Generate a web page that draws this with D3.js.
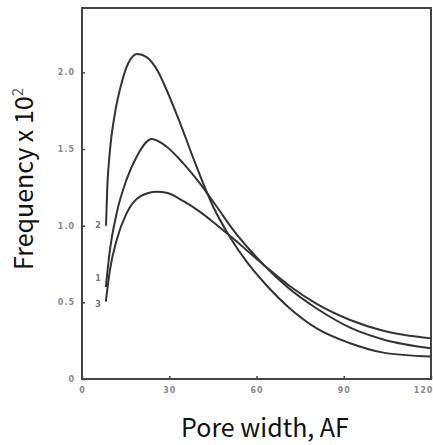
<!DOCTYPE html>
<html>
<head>
<meta charset="utf-8">
<script src="https://cdn.jsdelivr.net/npm/d3@7"></script>
<style>
  body { margin: 0; background: #fff; }
  svg { display: block; }
  .tick text { font-family: "DejaVu Sans", sans-serif; font-size: 8px; font-weight: bold; fill: #888; letter-spacing: 1px; }
  .tick line { stroke: #444; stroke-width: 1.5; }
  .title { font-family: "Noto Sans CJK KR", "Noto Sans", sans-serif; font-size: 25px; fill: #111; }
  .curveLabel { font-family: "DejaVu Sans", sans-serif; font-size: 8px; font-weight: bold; fill: #777; }
</style>
</head>
<body>
<div id="chart"></div>
<script>
// pore width (AF) and frequency x 10^2
var curve2X = [8.25, 8.7, 9.6, 11.3, 13.6, 15.9, 19.0, 22.2, 25.7, 29.1, 33.7, 39.4, 45.2, 50.9, 56.6, 63.5, 71.5, 80.7, 92.2, 103.6, 120];
var curve2Y = [1.00, 1.25, 1.49, 1.73, 1.93, 2.06, 2.12, 2.10, 2.02, 1.885, 1.67, 1.385, 1.12, 0.925, 0.765, 0.61, 0.46, 0.33, 0.233, 0.172, 0.146];

var curve1X = [8.2, 9.6, 11.9, 15.3, 18.8, 24.0, 29.1, 34.9, 40.6, 46.3, 52.1, 57.8, 63.5, 71.5, 80.7, 92.2, 103.6, 120];
var curve1Y = [0.60, 0.84, 1.08, 1.30, 1.45, 1.565, 1.515, 1.405, 1.275, 1.125, 0.97, 0.84, 0.725, 0.585, 0.46, 0.335, 0.258, 0.20];

var curve3X = [8.2, 9.6, 11.9, 15.3, 19.9, 25.7, 29.1, 34.9, 40.6, 46.3, 52.1, 57.8, 63.5, 71.5, 80.7, 92.2, 103.6, 120];
var curve3Y = [0.505, 0.71, 0.905, 1.08, 1.19, 1.222, 1.215, 1.16, 1.09, 1.005, 0.915, 0.82, 0.728, 0.605, 0.49, 0.385, 0.315, 0.265];

var curveNames = ['2', '1', '3'];
var xTicks = [0, 30, 60, 90, 120];
var yTicks = [0, 0.5, 1.0, 1.5, 2.0];

var width = 433, height = 445;
var plotLeft = 82, plotRight = 431, plotTop = 8, plotBottom = 379;

var svg = d3.select('#chart')
    .append('svg')
    .attr('width', width)
    .attr('height', height);

var x = d3.scaleLinear().domain([0, 120]).range([plotLeft, plotRight]);
var y = d3.scaleLinear().domain([0, 2.42]).range([plotBottom, plotTop]);

// axes with tiny inward ticks
svg.append('g')
    .attr('transform', 'translate(0,' + plotBottom + ')')
    .call(d3.axisBottom(x).tickValues(xTicks).tickSize(-3).tickPadding(8).tickFormat(d3.format('d')))
    .call(function(g){ g.select('.domain').remove(); })
    .selectAll('.tick text')
    .attr('dx', function(d){ return d === 120 ? -8 : 0; });

svg.append('g')
    .attr('transform', 'translate(' + plotLeft + ',0)')
    .call(d3.axisLeft(y).tickValues(yTicks).tickSize(-3).tickPadding(7)
        .tickFormat(function(d){ return d === 0 ? '0' : d3.format('.1f')(d); }))
    .call(function(g){ g.select('.domain').remove(); });

// frame
svg.append('rect')
    .attr('x', plotLeft)
    .attr('y', plotTop)
    .attr('width', plotRight - plotLeft)
    .attr('height', plotBottom - plotTop)
    .attr('fill', 'none')
    .attr('stroke', '#444')
    .attr('stroke-width', 2);

// curves
var series = [
    {name: curveNames[0], xs: curve2X, ys: curve2Y},
    {name: curveNames[1], xs: curve1X, ys: curve1Y},
    {name: curveNames[2], xs: curve3X, ys: curve3Y}
];

var line = d3.line()
    .x(function(d){ return x(d[0]); })
    .y(function(d){ return y(d[1]); })
    .curve(d3.curveMonotoneX);

svg.selectAll('.curve')
    .data(series)
    .enter()
    .append('path')
    .attr('class', 'curve')
    .attr('fill', 'none')
    .attr('stroke', '#333')
    .attr('stroke-width', 2)
    .attr('d', function(s){ return line(d3.zip(s.xs, s.ys)); });

// curve numbers at the left ends
var labelY = {'2': 1.0, '1': 0.66, '3': 0.49};
svg.selectAll('.curveLabel')
    .data(series)
    .enter()
    .append('text')
    .attr('class', 'curveLabel')
    .attr('x', x(5.5))
    .attr('y', function(s){ return y(labelY[s.name]); })
    .attr('dy', '0.35em')
    .attr('text-anchor', 'middle')
    .text(function(s){ return s.name; });

// titles
svg.append('text')
    .attr('class', 'title')
    .attr('x', 265)
    .attr('y', 437)
    .attr('text-anchor', 'middle')
    .text('Pore width, AF');

var yt = svg.append('text')
    .attr('class', 'title')
    .attr('transform', 'translate(33,179) rotate(-90)')
    .attr('text-anchor', 'middle');
yt.append('tspan').text('Frequency x 10');
yt.append('tspan').attr('dy', -10).attr('font-size', 15).attr('fill', '#555').text('2');
</script>
</body>
</html>
